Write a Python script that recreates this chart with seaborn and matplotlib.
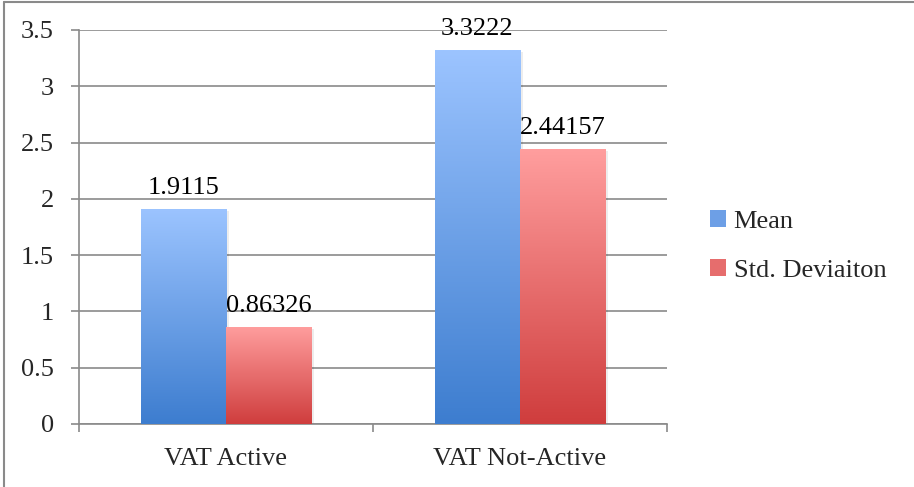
import numpy as np
import pandas as pd
import matplotlib
matplotlib.use("Agg")
import matplotlib.pyplot as plt
from matplotlib.colors import LinearSegmentedColormap
from matplotlib.lines import Line2D
from matplotlib.patches import Patch
import seaborn as sns

# =========================
# DATA
# =========================
categories = ["VAT Active", "VAT Not-Active"]
series = ["Mean", "Std. Deviaiton"]
mean_vals = [1.9115, 3.3222]
std_vals = [0.86326, 2.44157]
y_ticks = [0, 0.5, 1, 1.5, 2, 2.5, 3, 3.5]

df = pd.DataFrame({
    "category": categories * 2,
    "series": [series[0]] * 2 + [series[1]] * 2,
    "value": mean_vals + std_vals,
})

# gradient colours (top, bottom) per series
grad = {
    "Mean": ("#9cc4ff", "#3d7dcf"),
    "Std. Deviaiton": ("#ff9e9e", "#cf3d3d"),
}

FS = 19

# =========================
# PLOT
# =========================
sns.set_style("white")
plt.rcParams["font.family"] = ["Liberation Serif", "DejaVu Serif"]

fig = plt.figure(figsize=(9.14, 4.87), dpi=100)
ax = fig.add_axes([79 / 914, 63 / 487, 588 / 914, 394 / 487])

sns.barplot(
    data=df, x="category", y="value", hue="series",
    order=categories, hue_order=series,
    width=0.58, palette=[grad[s][1] for s in series],
    ax=ax, legend=False, zorder=3,
)

ax.set_xlim(-0.5, 1.5)
ax.set_ylim(0, 3.5)

# gradient fill, clipped to each bar
for s, cont in zip(series, ax.containers):
    cmap = LinearSegmentedColormap.from_list(s, [grad[s][1], grad[s][0]])
    for bar in cont:
        x0, y0 = bar.get_x(), bar.get_y()
        w, h = bar.get_width(), bar.get_height()
        # soft shadow
        ax.add_patch(plt.Rectangle((x0 + 0.01, y0), w, h - 0.02,
                                   color="#000000", alpha=0.07, zorder=2, lw=0))
        g = np.linspace(0, 1, 256).reshape(-1, 1)
        im = ax.imshow(g, cmap=cmap, origin="lower", aspect="auto",
                       extent=[x0, x0 + w, y0, y0 + h], zorder=3)
        im.set_clip_path(bar)
        bar.set_facecolor("none")
        bar.set_edgecolor("none")
    ax.bar_label(cont, fmt="%g", padding=7, fontsize=FS, color="black")

ax.set_xlim(-0.5, 1.5)
ax.set_ylim(0, 3.5)

# grid / axes
ax.set_yticks(y_ticks)
ax.set_yticklabels(["0", "0.5", "1", "1.5", "2", "2.5", "3", "3.5"])
ax.yaxis.grid(True, color="#8a8a8a", lw=1.2, zorder=0)
ax.set_axisbelow(True)
for sp in ["top", "right"]:
    ax.spines[sp].set_visible(False)
for sp in ["left", "bottom"]:
    ax.spines[sp].set_color("#8a8a8a")
    ax.spines[sp].set_linewidth(1.2)

ax.tick_params(axis="y", length=6, width=1.2, color="#8a8a8a",
               labelsize=FS, pad=12, left=True)
ax.set_xticks([-0.5, 0.5, 1.5], minor=True)
ax.tick_params(axis="x", which="major", length=0, labelsize=FS, pad=17)
ax.tick_params(axis="x", which="minor", length=6, width=1.2,
               color="#8a8a8a", bottom=True)
ax.set_xlabel("")
ax.set_ylabel("")

# legend
handles = [Patch(facecolor="#6d9fe6", edgecolor="none"),
           Patch(facecolor="#e66d6d", edgecolor="none")]
fig.legend(handles, series, loc="center left",
           bbox_to_anchor=(686 / 914, 1 - 246 / 487),
           frameon=False, fontsize=FS, handlelength=0.6, handleheight=0.6,
           handletextpad=0.3, labelspacing=1.0)

# outer border (left + top visible)
fig.add_artist(Line2D([4 / 914, 4 / 914], [0, 1 - 1.5 / 487],
                      transform=fig.transFigure, color="#8a8a8a", lw=1.5))
fig.add_artist(Line2D([4 / 914, 1], [1 - 1.5 / 487, 1 - 1.5 / 487],
                      transform=fig.transFigure, color="#8a8a8a", lw=1.5))

fig.savefig("out.png", dpi=100)
